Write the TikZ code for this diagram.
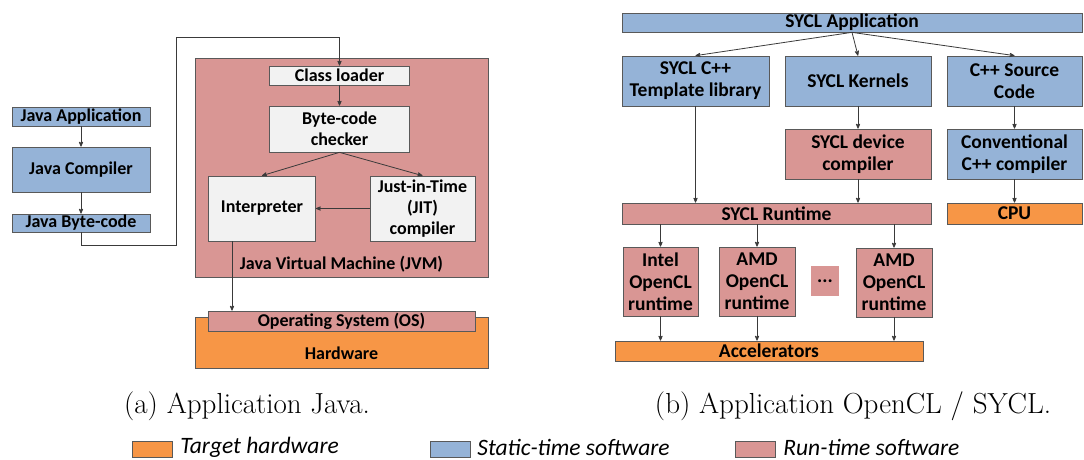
\documentclass[tikz,border=0pt]{standalone}
\usepackage{fontspec}
\newfontfamily\carlito{Carlito}
\usepackage{tikz}
\usetikzlibrary{arrows}
\usetikzlibrary{positioning}
\definecolor{statblue}{HTML}{95B3D7}
\definecolor{runred}{HTML}{D99694}
\definecolor{hworange}{HTML}{F79646}
\definecolor{boxgray}{HTML}{F2F2F2}
\definecolor{edgegray}{HTML}{595959}
\definecolor{linegray}{HTML}{3A3A3A}

\begin{document}
\begin{tikzpicture}[x=1pt,y=-1pt,->,>=stealth',shorten >=0pt,line width=0.8pt,draw=linegray,
    main node/.style={rectangle,draw=edgegray,line width=0.7pt,inner sep=0pt,align=center,font={\carlito\bfseries\fontsize{18}{21}\selectfont}},
    big node/.style={main node,font={\carlito\bfseries\fontsize{19.5}{22}\selectfont}},
    stat node/.style={fill=statblue}, run node/.style={fill=runred},
    hw node/.style={fill=hworange}, gray node/.style={fill=boxgray},
    caption/.style={font=\fontsize{29}{33}\selectfont},
    key box/.style={rectangle,draw=edgegray,line width=0.7pt,minimum width=40pt,minimum height=16pt,inner sep=0pt},
    key text/.style={anchor=west,inner sep=0pt,font={\carlito\itshape\fontsize{23.5}{26}\selectfont}}]
  \useasboundingbox (0,0) rectangle (1084,460);
  % (a) Java
  \begin{scope}
    \node[main node,stat node,minimum width=138pt,minimum height=19pt] (ja) at (81,116.5) {Java Application};
    \node[main node,stat node,minimum width=138pt,minimum height=45pt] (jc) at (81,169.5) {Java Compiler};
    \node[main node,stat node,minimum width=138pt,minimum height=18pt] (jb) at (81,223) {Java Byte-code};
    \node[main node,run node,minimum width=293pt,minimum height=219pt] (jvm) at (341.5,167.5) {};
    \node[main node,draw=none] (jvml) at (341.5,264) {Java Virtual Machine (JVM)};
    \node[main node,gray node,minimum width=140pt,minimum height=19pt] (cl) at (339.5,75.5) {Class loader};
    \node[main node,gray node,minimum width=140pt,minimum height=46pt] (bc) at (339.5,129) {Byte-code\\checker};
    \node[main node,gray node,minimum width=107pt,minimum height=65pt] (ip) at (262,208.5) {Interpreter};
    \node[main node,gray node,minimum width=105pt,minimum height=65pt] (jit) at (422.5,208.5) {Just-in-Time\\(JIT)\\compiler};
    \node[main node,hw node,minimum width=293pt,minimum height=51pt] (hw) at (341.5,342.5) {};
    \node[main node,draw=none] (hwl) at (341.5,353) {Hardware};
    \node[main node,run node,minimum width=267pt,minimum height=20pt] (os) at (341.5,321) {Operating System (OS)};
    \coordinate (k1) at (176,245);
    \coordinate (k2) at (176,37);
    \path (ja) edge (jc);
    \path (jc) edge (jb);
    \draw (jb.south) |- (k1) -- (k2) -| (cl.north);
    \path (cl) edge (bc);
    \path (bc.south) edge (ip.north);
    \path (bc.south) edge (jit.north);
    \path (jit) edge (ip);
    \draw ([xshift=-30pt]ip.south) -- ([xshift=-30pt]ip.south |- os.north);
  \end{scope}
  % (b) OpenCL / SYCL
  \begin{scope}
    \node[big node,stat node,minimum width=460pt,minimum height=19pt] (sa) at (852,22.5) {SYCL Application};
    \node[big node,stat node,minimum width=147pt,minimum height=50pt] (tl) at (695.5,81) {SYCL C++\\Template library};
    \node[big node,stat node,minimum width=146pt,minimum height=50pt] (sk) at (858,81) {SYCL Kernels};
    \node[big node,stat node,minimum width=135pt,minimum height=50pt] (cs) at (1014.5,81) {C++ Source\\Code};
    \node[big node,run node,minimum width=146pt,minimum height=50pt] (dc) at (858,154) {SYCL device\\compiler};
    \node[big node,stat node,minimum width=135pt,minimum height=50pt] (cc) at (1014.5,154) {Conventional\\C++ compiler};
    \node[big node,run node,minimum width=309pt,minimum height=21pt] (rt) at (776.5,213.5) {SYCL Runtime};
    \node[big node,hw node,minimum width=135pt,minimum height=21pt] (cpu) at (1014.5,213.5) {CPU};
    \node[big node,run node,minimum width=75pt,minimum height=69pt] (r1) at (660.5,281.5) {Intel\\OpenCL\\runtime};
    \node[big node,run node,minimum width=76pt,minimum height=69pt] (r2) at (757,281.5) {AMD\\OpenCL\\runtime};
    \node[big node,run node,draw=none,minimum width=28pt,minimum height=30pt] (dots) at (825,281) {...};
    \node[big node,run node,minimum width=76pt,minimum height=69pt] (r3) at (894,282.5) {AMD\\OpenCL\\runtime};
    \node[big node,hw node,minimum width=308pt,minimum height=20pt] (acc) at (769,351) {Accelerators};
    \path (sa.south) edge (tl.north);
    \path (sa.south) edge (sk.north);
    \path (sa.south) edge (cs.north);
    \path (sk) edge (dc);
    \path (cs) edge (cc);
    \path (cc) edge (cpu);
    \draw (tl.south) -- (tl.south |- rt.north);
    \draw (dc.south) -- (dc.south |- rt.north);
    \draw (r1.north |- rt.south) -- (r1.north);
    \draw (r2.north |- rt.south) -- (r2.north);
    \draw (r3.north |- rt.south) -- (r3.north);
    \draw (r1.south) -- (r1.south |- acc.north);
    \draw (r2.south) -- (r2.south |- acc.north);
    \draw (r3.south) -- (r3.south |- acc.north);
  \end{scope}
  % captions and key
  \node[caption] (capa) at (247,406) {(a) Application Java.};
  \node[caption] (capb) at (853,406) {(b) Application OpenCL / SYCL.};
  \node[key box,hw node] (kh) at (152,449) {};
  \node[key text] (khl) at (180,447) {Target hardware};
  \node[key box,stat node] (ks) at (450,449) {};
  \node[key text] (ksl) at (477,447) {Static-time software};
  \node[key box,run node] (kr) at (755,449) {};
  \node[key text] (krl) at (783,447) {Run-time software};
\end{tikzpicture}
\end{document}
